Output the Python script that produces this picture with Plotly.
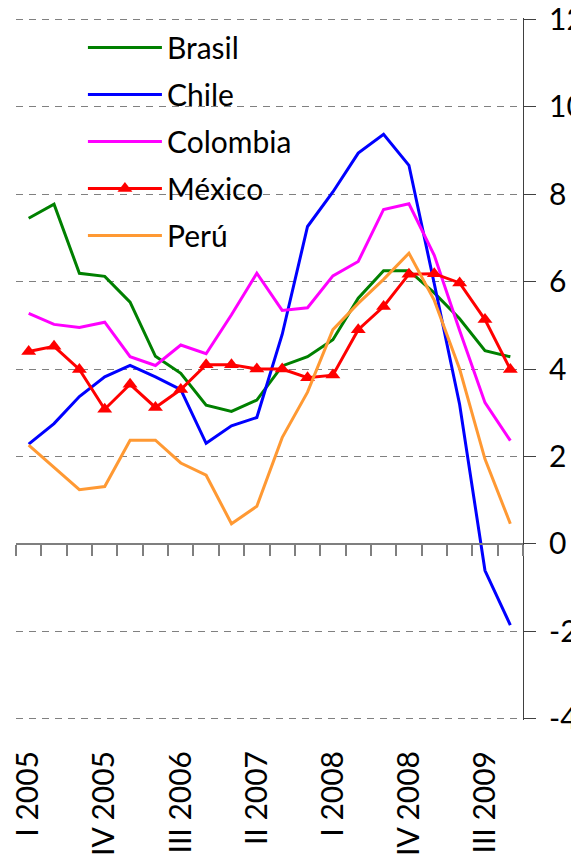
import plotly.graph_objects as go

quarters = [
    "I 2005", "II 2005", "III 2005", "IV 2005",
    "I 2006", "II 2006", "III 2006", "IV 2006",
    "I 2007", "II 2007", "III 2007", "IV 2007",
    "I 2008", "II 2008", "III 2008", "IV 2008",
    "I 2009", "II 2009", "III 2009", "IV 2009",
]
label_quarters = ["I 2005", "IV 2005", "III 2006", "II 2007", "I 2008", "IV 2008", "III 2009"]

brasil = [7.45, 7.77, 6.19, 6.12, 5.53, 4.29, 3.90, 3.17, 3.03, 3.29,
          4.07, 4.28, 4.67, 5.62, 6.25, 6.25, 5.74, 5.15, 4.42, 4.28]
chile = [2.28, 2.75, 3.37, 3.82, 4.08, 3.82, 3.53, 2.30, 2.70, 2.89,
         4.79, 7.26, 8.05, 8.94, 9.37, 8.66, 5.95, 3.19, -0.61, -1.86]
colombia = [5.27, 5.02, 4.95, 5.07, 4.28, 4.08, 4.55, 4.35, 5.24, 6.19,
            5.34, 5.40, 6.13, 6.46, 7.65, 7.78, 6.60, 4.88, 3.23, 2.36]
mexico = [4.40, 4.52, 3.99, 3.08, 3.65, 3.12, 3.53, 4.10, 4.10, 4.00,
          4.00, 3.80, 3.86, 4.90, 5.43, 6.17, 6.18, 5.97, 5.13, 3.99]
peru = [2.26, 1.75, 1.24, 1.31, 2.37, 2.37, 1.85, 1.57, 0.46, 0.86,
        2.43, 3.47, 4.90, 5.50, 6.05, 6.65, 5.57, 4.00, 1.94, 0.46]

y_ticks = [12, 10, 8, 6, 4, 2, 0, -2, -4]
y_ticktext = ["12", "10", "8", "6", "4", "2", "0", "-2", "-4"]

FONT = "Lato"
series = [
    ("Brasil", brasil, "#008000"),
    ("Chile", chile, "#0000FF"),
    ("Colombia", colombia, "#FF00FF"),
    ("México", mexico, "#FF0000"),
    ("Perú", peru, "#FF9933"),
]

fig = go.Figure()
for name, vals, col in series:
    is_mx = name == "México"
    fig.add_trace(go.Scatter(
        x=quarters, y=vals, name=name, legendgroup=name,
        mode="lines+markers" if is_mx else "lines",
        line=dict(color=col, width=3),
        marker=dict(symbol="triangle-up", size=13, color=col) if is_mx else None,
        hoverinfo="skip",
    ))

# dummy trace for the zero-line tick axis
fig.add_trace(go.Scatter(x=[None], y=[None], xaxis="x2", yaxis="y",
                         showlegend=False, hoverinfo="skip"))

Y_LO, Y_HI = -4.03, 12.03
zero_pos = (0 - Y_LO) / (Y_HI - Y_LO)

fig.update_layout(
    width=579, height=867,
    margin=dict(l=8, r=64, t=10, b=155, autoexpand=False),
    paper_bgcolor="white", plot_bgcolor="white",
    font=dict(family=FONT, size=30, color="black"),
    showlegend=True,
    legend=dict(
        x=0.132, y=0.995, xanchor="left", yanchor="top",
        bgcolor="rgba(0,0,0,0)", borderwidth=0,
        font=dict(family=FONT, size=30, color="black"),
        tracegroupgap=5, itemwidth=74,
    ),
    xaxis=dict(
        type="category", range=[-0.5, 19.5], automargin=False,
        tickmode="array", tickvals=label_quarters, ticktext=label_quarters,
        tickangle=-90, ticks="", showgrid=False, showline=False, zeroline=False,
        ticklabelstandoff=24,
        tickfont=dict(family=FONT, size=30, color="black"),
    ),
    xaxis2=dict(
        overlaying="x", anchor="free", position=zero_pos, side="bottom",
        range=[-0.5, 19.5], tickmode="linear", tick0=-0.5, dtick=1,
        ticks="outside", ticklen=11, tickwidth=1.5, tickcolor="#7f7f7f",
        showticklabels=False, showgrid=False, zeroline=False, automargin=False,
        showline=True, linecolor="#7f7f7f", linewidth=2,
    ),
    yaxis=dict(
        side="right", range=[Y_LO, Y_HI], automargin=False,
        tickmode="array", tickvals=y_ticks, ticktext=y_ticktext,
        ticks="outside", ticklen=12, tickwidth=1, tickcolor="#404040",
        showline=True, linecolor="#404040", linewidth=1,
        showgrid=True, gridcolor="#808080", gridwidth=1, griddash="7px,6px",
        zeroline=False, ticklabelstandoff=7, ticklabeloverflow="allow",
        tickfont=dict(family=FONT, size=30, color="black"),
    ),
    shapes=[dict(
        type="rect", xref="paper", yref="paper", layer="between",
        x0=0.077, x1=0.645, y0=0.652, y1=0.99,
        fillcolor="white", line=dict(width=0),
    )],
)

fig.write_html("out.html")
